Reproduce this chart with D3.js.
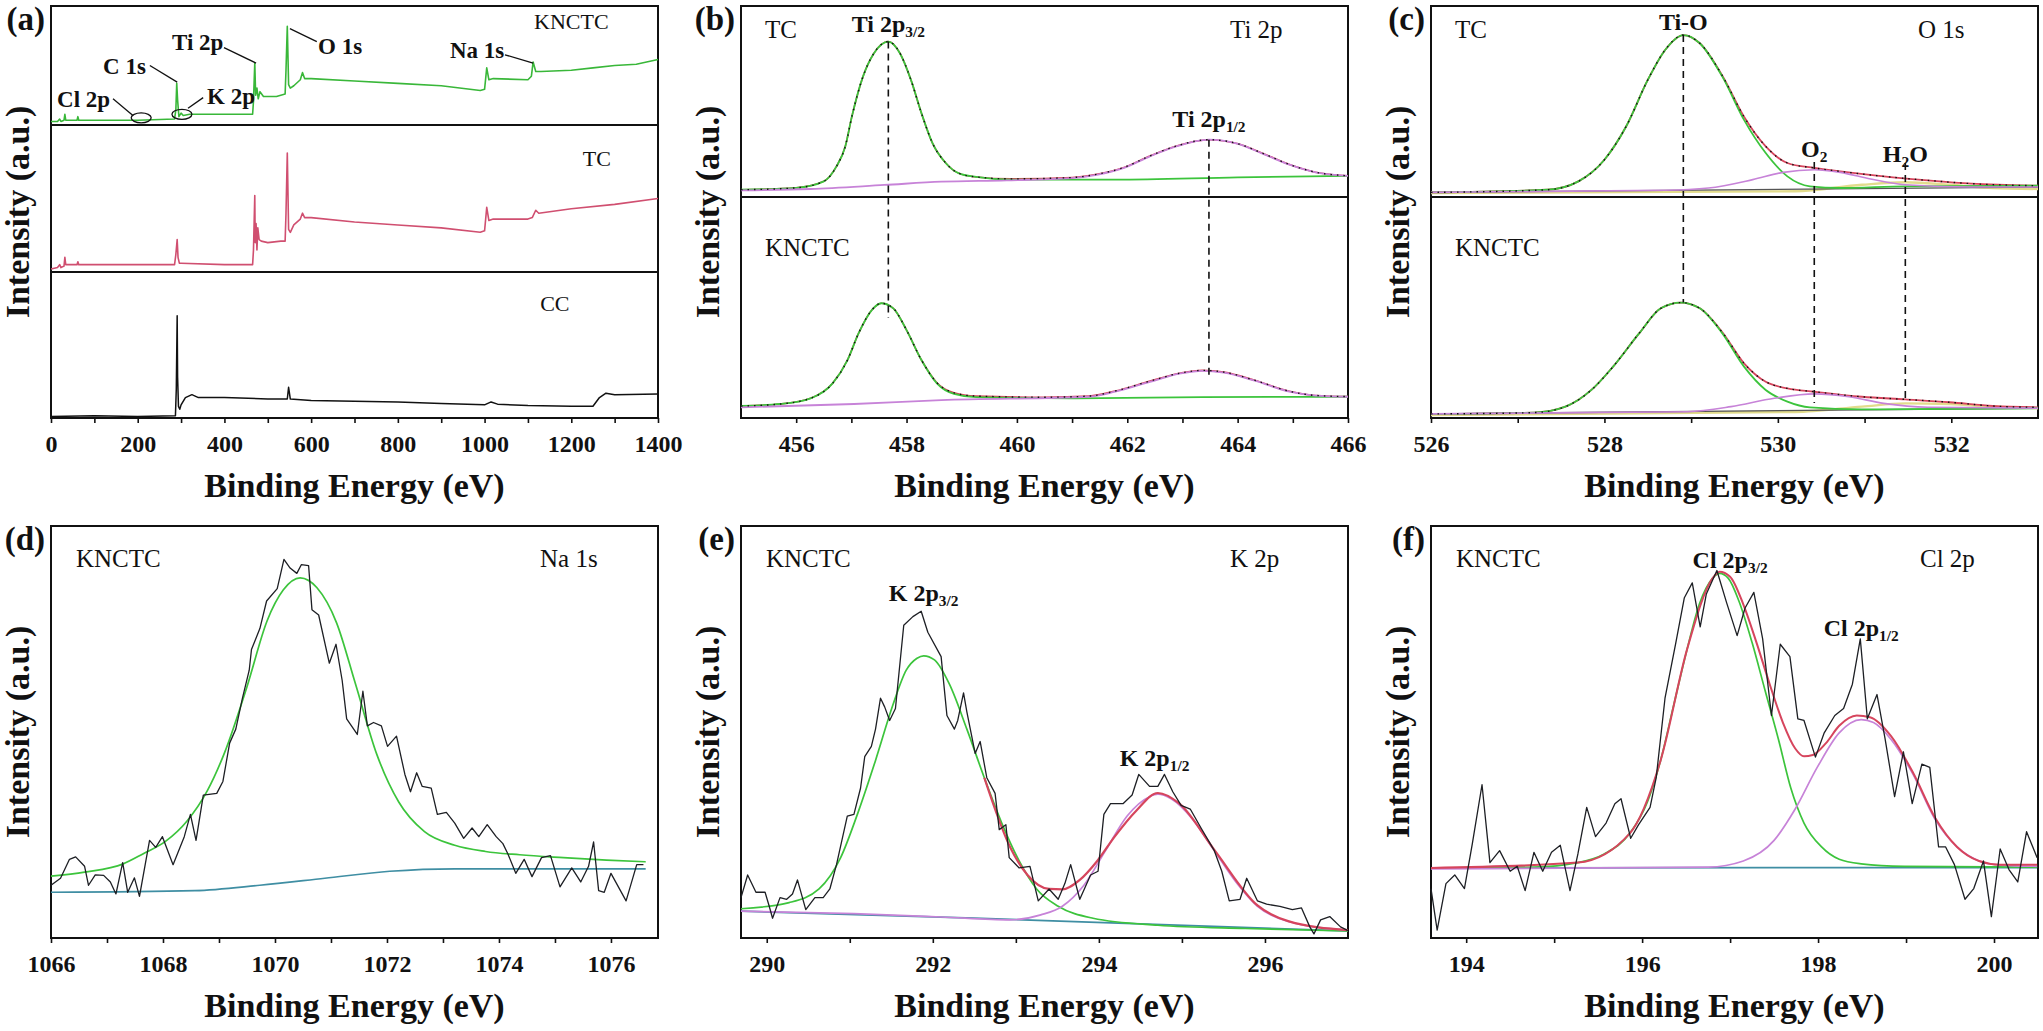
<!DOCTYPE html>
<html>
<head>
<meta charset="utf-8">
<script src="https://cdn.jsdelivr.net/npm/d3@7"></script>
<style>
body { margin: 0; background: #fff; }
svg { display: block; }
</style>
</head>
<body>
<svg id="chart" width="2043" height="1031"></svg>
<script>
// ---- survey spectra, panel (a): [binding energy, relative intensity in its strip]
var knctcSurvey = [[0,3],[15,3],[20,5],[23,3],[30,4],[32,9],[34,4],[60,4],[62,7],[64,4],[200,4],[285,5],[288,13],[290,35],[292,21],[295,7],[300,10],[305,8],[320,9],[400,9],[465,9],[467,20],[470,52],[472,25],[475,31],[478,22],[482,28],[490,24],[520,24],[540,26],[542,46],[545,83],[548,34],[552,31],[560,33],[575,38],[580,44],[585,39],[600,39],[700,37],[800,35],[900,33],[990,29],[1000,30],[1005,48],[1010,38],[1020,39],[1100,38],[1108,41],[1112,53],[1118,45],[1130,45],[1200,46],[1250,48],[1300,50],[1350,51],[1400,55]];
var tcSurvey = [[0,2],[15,3],[20,5],[23,3],[30,4],[32,10],[34,5],[60,5],[62,7],[64,5],[200,5],[285,5],[288,12],[291,22],[293,10],[296,6],[300,6],[400,5],[465,5],[467,15],[470,52],[471,20],[473,33],[475,15],[477,30],[480,22],[485,21],[500,20],[530,21],[540,21],[542,40],[545,81],[548,29],[552,27],[560,32],[575,36],[580,40],[585,37],[600,37],[700,34],[800,32],[900,30],[990,27],[1000,28],[1005,44],[1010,35],[1020,36],[1100,36],[1110,37],[1118,42],[1125,40],[1200,43],[1300,46],[1400,50]];
var ccSurvey = [[0,1],[100,1.5],[200,1],[287,1.5],[289,20],[291,70],[292,28],[294,8],[297,6],[300,9],[310,14],[325,16],[340,14],[400,14],[500,13],[540,13],[545,13],[548,21],[552,13],[600,12],[700,11.5],[800,11],[900,10],[1000,9],[1015,11],[1030,9.5],[1100,8.5],[1200,8],[1250,8],[1265,14],[1280,17],[1300,16],[1400,16.5]];
var surveyNotes = [
  {text: "Cl 2p", at: [14, 15], from: [143, 22], to: [189, 8]},
  {text: "C 1s", at: [120, 43], from: [228, 50], to: [291, 36]},
  {text: "K 2p", at: [360, 18], from: [351, 23], to: [316, 14]},
  {text: "Ti 2p", at: [279, 63], from: [399, 65], to: [473, 52]},
  {text: "O 1s", at: [616, 60], from: [613, 70], to: [551, 81]},
  {text: "Na 1s", at: [920, 56], from: [1047, 59], to: [1112, 52]}
];
var surveyRings = [[208, 6], [302, 9]];

// ---- Ti 2p, panel (b)
var tiTcEnvelope = [[455,3.8],[456,4.8],[456.5,8.2],[456.73,16],[456.89,26.5],[457.01,42.2],[457.21,63],[457.41,75.3],[457.67,81.4],[457.88,75.3],[458.08,61.3],[458.27,43.9],[458.47,28.2],[458.71,17.8],[458.94,12.5],[459.26,10.5],[459.89,9.5],[461.0,10.2],[461.47,12],[461.94,15.5],[462.41,21.5],[462.89,26.7],[463.48,30],[463.99,28],[464.46,22.8],[464.94,17],[465.41,13],[466,11.1]];
var tiTcGreen = [[455,3.8],[456,4.8],[456.5,8.2],[456.73,16],[456.89,26.5],[457.01,42.2],[457.21,63],[457.41,75.3],[457.67,81.4],[457.88,75.3],[458.08,61.3],[458.27,43.9],[458.47,28.2],[458.71,17.8],[458.94,12.5],[459.26,10.5],[459.89,9.1],[461.78,9.1],[464,10.3],[466,11.1]];
var tiTcPurple = [[455,3.5],[456.26,4.2],[457.6,6.3],[458.63,8],[459.81,8.7],[461.0,9.9],[461.47,11.7],[461.94,15.2],[462.41,21.3],[462.89,26.5],[463.48,30],[463.99,27.9],[464.46,22.6],[464.94,16.9],[465.41,12.9],[466,11.1]];
var tiKEnvelope = [[455,5],[455.71,5.9],[456.26,8.5],[456.66,15.3],[456.93,25.9],[457.13,38],[457.37,48.6],[457.54,51.7],[457.76,49.4],[458.0,39.5],[458.27,25.9],[458.55,15.6],[458.86,11],[459.26,9.5],[460.5,9],[461.31,9.5],[461.78,11.8],[462.41,16.3],[462.97,20],[463.36,21.2],[463.75,20.4],[464.31,16.7],[464.94,11.7],[465.41,9.8],[466,9.3]];
var tiKGreen = [[455,5],[455.71,5.9],[456.26,8.5],[456.66,15.3],[456.93,25.9],[457.13,38],[457.37,48.6],[457.54,51.7],[457.76,49.4],[458.0,39.5],[458.27,25.9],[458.55,15.3],[458.86,10.5],[459.26,9],[460.99,8.5],[463.36,9],[466,9.2]];
var tiKPurple = [[455,4.4],[457.05,5.9],[458.63,7.7],[461.31,9.2],[461.78,11.5],[462.41,16],[462.97,19.8],[463.36,21],[463.75,20.2],[464.31,16.5],[464.94,11.5],[465.41,9.7],[466,9.2]];
var tiDashes = [{x: 457.67, from: 81.4, to: 45}, {x: 463.48, from: 30, to: 17.7}];

// ---- O 1s, panel (c)
var oTcEnvelope = [[526,2.4],[527.34,3.8],[527.7,8.2],[528.0,19.5],[528.25,36.9],[528.5,61.3],[528.7,77],[528.91,84.8],[529.1,80.5],[529.36,63.5],[529.61,42],[529.86,26.5],[530.11,17.8],[530.42,15.2],[530.72,13.4],[531.22,10.8],[531.73,8.7],[532.23,7],[533,5.9]];
var oTcGreen = [[526,2.4],[527.34,3.8],[527.7,8.2],[528.0,19.5],[528.25,36.9],[528.5,61.3],[528.7,77],[528.91,84.8],[529.1,80.5],[529.36,63],[529.61,40.4],[529.86,23],[530.11,10.8],[530.37,5.6],[530.72,4.7],[531.47,5.6],[533,5.9]];
var oTcPurple = [[526,2.4],[528.7,3.5],[529.2,4.7],[529.71,9.1],[530.06,12.9],[530.42,14.3],[530.72,12.9],[531.07,9.4],[531.47,6.4],[532.23,5.2],[533,5.2]];
var oTcWater = [[526,2.1],[530.2,3],[530.97,6.4],[531.47,7.7],[531.98,6.4],[532.48,4.7],[533,4.2]];
var oTcBase = [[526,2.4],[533,5.2]];
var oKEnvelope = [[526,1.4],[527.19,2],[527.55,4.7],[527.85,12.3],[528.1,22.9],[528.4,38],[528.65,49.4],[528.88,52],[529.1,49.4],[529.36,38.5],[529.61,24.4],[529.86,16],[530.11,13],[530.42,11.5],[530.97,9.2],[531.47,8],[531.98,6.7],[532.48,5],[533,4.4]];
var oKGreen = [[526,1.4],[527.19,2],[527.55,4.7],[527.85,12.3],[528.1,22.9],[528.4,38],[528.65,49.4],[528.88,52],[529.1,49.4],[529.36,38],[529.61,22.9],[529.86,12.3],[530.11,7],[530.37,4.4],[530.97,3.5],[533,4]];
var oKPurple = [[526,1.4],[528.96,2.4],[529.46,4.7],[529.96,8.5],[530.42,10.5],[530.82,9.2],[531.22,6.2],[531.73,4.4],[533,4]];
var oKWater = [[526,0.9],[530.2,2.3],[530.97,4.7],[531.47,6.2],[531.98,5.9],[532.48,4.7],[533,4]];
var oKBase = [[526,1.4],[533,4]];
var oDashes = [{x: 528.91, from: 84.8, to: 52}, {x: 530.42, from: 18.3, to: 6.4}, {x: 531.47, from: 17.8, to: 8.6}];

// ---- Na 1s, panel (d)
var naRaw = [[1066.00,12.8],[1066.17,14.5],[1066.33,19.1],[1066.44,19.7],[1066.60,17.4],[1066.67,12.8],[1066.79,15.3],[1066.94,15.2],[1067.06,13.6],[1067.16,10.7],[1067.28,18.3],[1067.37,11.1],[1067.49,14.6],[1067.58,10.1],[1067.76,23.7],[1067.87,22.0],[1067.99,24.6],[1068.18,17.8],[1068.38,24.6],[1068.49,30.0],[1068.59,23.7],[1068.72,34.7],[1068.96,35.1],[1069.07,38.0],[1069.19,47.3],[1069.30,50.7],[1069.42,58.3],[1069.54,65.0],[1069.58,70.0],[1069.73,75.1],[1069.85,81.8],[1070.04,84.8],[1070.16,91.9],[1070.27,89.8],[1070.39,88.5],[1070.47,90.6],[1070.60,90.4],[1070.66,79.7],[1070.78,78.4],[1070.97,66.7],[1071.09,71.3],[1071.20,62.5],[1071.28,53.2],[1071.47,49.4],[1071.57,59.9],[1071.65,51.5],[1071.76,52.3],[1071.90,51.5],[1072.01,46.5],[1072.17,49.0],[1072.32,39.7],[1072.42,35.5],[1072.53,40.1],[1072.63,36.8],[1072.79,36.4],[1072.90,30.0],[1073.06,30.5],[1073.21,27.9],[1073.37,24.2],[1073.52,26.7],[1073.64,24.6],[1073.79,27.5],[1073.95,24.6],[1074.07,22.9],[1074.16,20.4],[1074.30,15.7],[1074.45,19.1],[1074.59,14.9],[1074.76,19.5],[1074.92,20.0],[1075.09,12.4],[1075.30,17.0],[1075.46,13.6],[1075.60,17.4],[1075.69,23.3],[1075.78,11.5],[1075.88,11.1],[1076.00,15.7],[1076.27,9.0],[1076.46,17.8],[1076.58,17.8]];
var naFit = [[1066,15],[1066.6,16],[1067.29,18],[1067.64,20.4],[1068.05,23.5],[1068.43,28.4],[1068.79,35.7],[1069.1,45],[1069.5,61],[1069.86,77],[1070.15,84.5],[1070.45,87.4],[1070.75,85],[1071.1,76.5],[1071.43,62],[1071.82,44.5],[1072.21,33],[1072.67,25.8],[1073.21,22.5],[1073.76,21],[1074.37,20.2],[1075.15,19.5],[1075.92,18.9],[1076.62,18.5]];
var naBase = [[1066,11.1],[1068.57,11.5],[1069.73,12.8],[1070.89,14.5],[1072.05,16.2],[1073.21,16.8],[1076.62,16.8]];

// ---- K 2p, panel (e)
var kRaw = [[289.69,9.8],[289.77,15.3],[289.87,11.1],[289.98,11.1],[290.03,7.7],[290.07,4.8],[290.16,9.8],[290.24,9.4],[290.31,10.7],[290.37,14.1],[290.47,6.9],[290.58,9.8],[290.68,9.8],[290.76,11.9],[290.84,17.8],[290.97,29.6],[291.05,30.0],[291.13,36.4],[291.18,44.0],[291.26,46.5],[291.31,50.7],[291.37,58.2],[291.42,56.1],[291.48,52.8],[291.55,55.7],[291.65,75.9],[291.76,78.0],[291.86,79.3],[291.94,74.2],[292.10,68.3],[292.17,54.0],[292.26,50.7],[292.30,52.8],[292.37,59.5],[292.41,54.9],[292.51,44.8],[292.57,47.7],[292.65,38.9],[292.75,35.1],[292.80,26.3],[292.88,27.5],[292.92,19.5],[293.04,17.0],[293.17,17.4],[293.27,9.0],[293.40,11.9],[293.51,9.4],[293.59,13.2],[293.66,17.8],[293.77,9.4],[293.90,15.3],[293.99,16.2],[294.06,30.0],[294.14,32.6],[294.29,32.6],[294.40,34.7],[294.48,39.7],[294.61,36.8],[294.71,36.8],[294.79,39.7],[294.89,35.5],[294.99,32.2],[295.10,31.3],[295.23,26.7],[295.39,21.2],[295.48,16.2],[295.57,9.0],[295.70,9.4],[295.78,14.5],[295.91,9.0],[296.02,8.2],[296.18,7.7],[296.33,6.9],[296.44,7.3],[296.54,2.7],[296.59,1.0],[296.67,4.4],[296.78,5.2],[296.91,2.7],[297.00,1.8]];
var kGreen = [[289.69,7.1],[290.27,8.6],[290.63,11.9],[290.89,19.5],[291.10,30.5],[291.31,43.1],[291.52,56.6],[291.68,65],[291.81,67.9],[291.89,68.5],[292.02,67.5],[292.2,61.6],[292.41,50.7],[292.62,38.9],[292.83,27.9],[293.04,18.7],[293.25,11.9],[293.51,7.7],[293.93,4.8],[294.71,3.1],[295.76,2.3],[297,1.7]];
var kPurple = [[289.69,6.5],[291.05,5.9],[292.1,5.1],[292.93,4.4],[293.3,5.6],[293.56,7.7],[293.82,12.8],[294.08,21.2],[294.34,29.6],[294.61,34.3],[294.71,34.9],[294.87,33.8],[295.13,28.8],[295.39,21.2],[295.65,13.6],[295.91,7.7],[296.28,4.0],[297,1.9]];
var kEnvelope = [[292.62,38.9],[292.93,22.1],[293.14,15.3],[293.4,11.9],[293.56,11.8],[293.77,14.1],[293.98,18.7],[294.19,24.6],[294.45,30.9],[294.71,35.2],[294.97,32.6],[295.39,21.4],[295.91,7.9],[296.28,4.1],[297,1.9]];
var kBase = [[289.69,6.5],[292.5,4.8],[297,1.7]];

// ---- Cl 2p, panel (f)
var clRaw = [[193.60,12.0],[193.67,1.9],[193.77,13.2],[193.87,15.3],[193.98,12.0],[194.07,22.9],[194.18,37.2],[194.27,18.3],[194.38,21.2],[194.50,16.2],[194.58,17.4],[194.67,11.5],[194.77,20.8],[194.87,16.2],[194.97,20.8],[195.07,22.5],[195.18,11.5],[195.27,20.4],[195.37,31.7],[195.47,24.6],[195.59,27.9],[195.69,32.6],[195.76,33.8],[195.87,24.2],[195.96,27.5],[196.09,31.7],[196.16,38.9],[196.26,58.2],[196.38,71.3],[196.48,82.6],[196.57,86.2],[196.66,75.5],[196.73,83.5],[196.85,89.2],[196.96,81.4],[197.08,73.4],[197.17,80.1],[197.27,83.9],[197.37,72.6],[197.47,54.0],[197.57,71.3],[197.68,68.3],[197.77,53.2],[197.84,52.8],[197.97,43.9],[198.07,49.8],[198.19,54.0],[198.29,55.7],[198.39,61.6],[198.48,72.6],[198.56,53.2],[198.67,59.1],[198.76,48.6],[198.87,34.3],[198.97,45.2],[199.07,32.6],[199.18,42.2],[199.27,41.4],[199.37,22.1],[199.45,22.1],[199.55,17.8],[199.67,9.4],[199.77,12.0],[199.88,18.7],[199.97,5.2],[200.07,21.6],[200.17,16.6],[200.27,13.6],[200.37,25.8],[200.49,19.5]];
var clGreen = [[193.6,17],[194.77,17.2],[195.27,18.3],[195.57,20.4],[195.86,25.4],[196.06,33],[196.21,43.1],[196.36,56.6],[196.51,70],[196.65,81],[196.8,87.3],[196.88,88.5],[196.98,87.3],[197.1,81.8],[197.25,71.7],[197.4,59.9],[197.55,48.2],[197.69,36.4],[197.84,27.9],[198.04,22.1],[198.24,19.1],[198.49,18],[198.98,17.4],[200.49,17.2]];
var clPurple = [[193.6,16.8],[196.75,17.2],[197.15,18.7],[197.5,23.7],[197.74,31.3],[197.99,41.4],[198.24,49.8],[198.49,53],[198.63,52.3],[198.83,48.2],[199.08,39.7],[199.33,28.8],[199.58,22.1],[199.83,18.7],[200.07,17.7],[200.49,17.4]];
var clEnvelope = [[193.6,17],[195.27,18.3],[195.86,25.4],[196.21,43.1],[196.51,70],[196.8,87.3],[196.88,88.9],[197.0,87.7],[197.15,81],[197.3,71.7],[197.45,61.6],[197.6,52.3],[197.74,46],[197.84,44.1],[197.94,44.4],[198.09,47.3],[198.24,51.5],[198.44,54],[198.59,53.6],[198.83,49],[199.08,40.1],[199.33,29.2],[199.58,22.1],[199.83,18.7],[200.07,17.8],[200.49,17.8]];
var clBase = [[193.6,17],[200.49,17.1]];

// ---- layout & styles
var colLeft = [51, 741, 1431], panelW = 607;
var rowBox = [{top: 6, bottom: 418}, {top: 526, bottom: 938}];
var serif = "'Liberation Serif', 'Times New Roman', serif";
var ink = "#111", green = "#3cc43c", purple = "#c783d8", red = "#d6455d",
    teal = "#3f8ea3", pink = "#d04f70", pale = "#e2dc8c";

var svg = d3.select("#chart").attr("font-family", serif);

var curveLine = function(x, y, smooth) {
  return d3.line()
    .x(function(d) { return x(d[0]); })
    .y(function(d) { return y(d[1]); })
    .curve(smooth ? d3.curveMonotoneX : d3.curveLinear);
};

var plot = function(g, data, x, y, color, width, smooth, dash) {
  g.append("path").datum(data)
    .attr("d", curveLine(x, y, smooth))
    .attr("fill", "none").attr("stroke", color)
    .attr("stroke-width", width).attr("stroke-linejoin", "round")
    .attr("stroke-dasharray", dash || null);
};

// text with "_{...}" subscripts
var rich = function(g, px, py, str, size, bold, anchor) {
  var t = g.append("text").attr("x", px).attr("y", py)
    .attr("text-anchor", anchor || "middle").attr("font-size", size)
    .attr("font-weight", bold ? "bold" : "normal").attr("fill", ink);
  var pieces = str.split(/(_\{[^}]*\})/).filter(function(s) { return s.length; });
  var down = false;
  pieces.forEach(function(p) {
    var s = t.append("tspan");
    if (p.indexOf("_{") === 0) {
      s.text(p.slice(2, -1)).attr("font-size", size * 0.64).attr("dy", down ? 0 : 5);
      down = true;
    } else {
      s.text(p);
      if (down) s.attr("dy", -5);
      down = false;
    }
  });
};

var frameAndAxes = function(letter, col, row, x, ticks, labelled, separators) {
  var left = colLeft[col], box = rowBox[row];
  var g = svg.append("g");
  g.append("g").attr("transform", "translate(0," + box.bottom + ")")
    .call(d3.axisBottom(x).tickValues(ticks).tickSize(5).tickPadding(12).tickSizeOuter(0)
      .tickFormat(function(d) { return labelled.indexOf(d) >= 0 ? d : ""; }))
    .attr("font-family", serif).attr("font-size", 24).attr("font-weight", "bold")
    .call(function(a) {
      a.select(".domain").remove();
      a.selectAll("line").attr("stroke", ink).attr("stroke-width", 1.6);
      a.selectAll("text").attr("fill", ink);
    });
  (separators || []).forEach(function(sy) {
    g.append("line").attr("x1", left).attr("x2", left + panelW)
      .attr("y1", sy).attr("y2", sy).attr("stroke", ink).attr("stroke-width", 2);
  });
  g.append("rect").attr("x", left).attr("y", box.top)
    .attr("width", panelW).attr("height", box.bottom - box.top)
    .attr("fill", "none").attr("stroke", ink).attr("stroke-width", 2);
  g.append("text").attr("x", left - 6).attr("y", box.top + 24)
    .attr("text-anchor", "end").attr("font-size", 33).attr("font-weight", "bold")
    .attr("fill", ink).text("(" + letter + ")");
  g.append("text").attr("x", left + panelW / 2).attr("y", box.bottom + 79)
    .attr("text-anchor", "middle").attr("font-size", 34).attr("font-weight", "bold")
    .attr("fill", ink).text("Binding Energy (eV)");
  g.append("text")
    .attr("transform", "translate(" + (left - 22) + "," + ((box.top + box.bottom) / 2) + ") rotate(-90)")
    .attr("text-anchor", "middle").attr("font-size", 34).attr("font-weight", "bold")
    .attr("fill", ink).text("Intensity (a.u.)");
  return g;
};

var xScale = function(col, domain) {
  return d3.scaleLinear().domain(domain).range([colLeft[col], colLeft[col] + panelW]);
};
var yScale = function(top, bottom) {
  return d3.scaleLinear().domain([0, 100]).range([bottom, top]);
};
var evens = function(a, b) { return d3.range(a, b + 1, 2); };

// ===== (a) survey
(function() {
  var x = xScale(0, [0, 1400]);
  var g = frameAndAxes("a", 0, 0, x, d3.range(0, 1401, 100), d3.range(0, 1401, 200), [125, 272]);
  var yK = yScale(6, 125), yT = yScale(125, 272), yC = yScale(272, 418);
  plot(g, knctcSurvey, x, yK, "#39b739", 1.6, false);
  plot(g, tcSurvey, x, yT, pink, 1.6, false);
  plot(g, ccSurvey, x, yC, ink, 1.5, false);
  surveyNotes.forEach(function(n) {
    rich(g, x(n.at[0]), yK(n.at[1]), n.text, 23, true, "start");
    g.append("line").attr("x1", x(n.from[0])).attr("y1", yK(n.from[1]))
      .attr("x2", x(n.to[0])).attr("y2", yK(n.to[1]))
      .attr("stroke", ink).attr("stroke-width", 1.3);
  });
  surveyRings.forEach(function(r) {
    g.append("ellipse").attr("cx", x(r[0])).attr("cy", yK(r[1]))
      .attr("rx", 10).attr("ry", 5).attr("fill", "none")
      .attr("stroke", ink).attr("stroke-width", 1.3);
  });
  rich(g, x(1200), yK(81), "KNCTC", 22, false);
  rich(g, x(1259), yT(72), "TC", 22, false);
  rich(g, x(1162), yC(73), "CC", 22, false);
})();

// ===== (b) Ti 2p
(function() {
  var x = xScale(1, [455, 466]), left = colLeft[1];
  var g = frameAndAxes("b", 1, 0, x, d3.range(456, 467, 1), evens(456, 466), [197]);
  var yT = yScale(6, 197), yK = yScale(197, 417);
  [[tiTcEnvelope, tiTcGreen, tiTcPurple, yT], [tiKEnvelope, tiKGreen, tiKPurple, yK]].forEach(function(s) {
    plot(g, s[0], x, s[3], red, 1.6, true);
    plot(g, s[1], x, s[3], green, 1.8, true);
    plot(g, s[2], x, s[3], purple, 1.8, true);
    plot(g, s[0], x, s[3], ink, 1.4, true, "1.5,5");
  });
  tiDashes.forEach(function(d) {
    g.append("line").attr("x1", x(d.x)).attr("x2", x(d.x))
      .attr("y1", yT(d.from)).attr("y2", yK(d.to))
      .attr("stroke", ink).attr("stroke-width", 1.6).attr("stroke-dasharray", "7,5");
  });
  rich(g, left + 24, 38, "TC", 25, false, "start");
  rich(g, left + 489, 38, "Ti 2p", 25, false, "start");
  rich(g, left + 24, 256, "KNCTC", 25, false, "start");
  rich(g, x(457.67), yT(86.5), "Ti 2p_{3/2}", 24, true);
  rich(g, x(463.48), yT(36.6), "Ti 2p_{1/2}", 24, true);
})();

// ===== (c) O 1s
(function() {
  var x = xScale(2, [526, 533]), left = colLeft[2];
  var g = frameAndAxes("c", 2, 0, x, d3.range(526, 533, 1), evens(526, 532), [197]);
  var yT = yScale(6, 197), yK = yScale(197, 417);
  [[oTcBase, oTcEnvelope, oTcGreen, oTcPurple, oTcWater, yT], [oKBase, oKEnvelope, oKGreen, oKPurple, oKWater, yK]].forEach(function(s) {
    plot(g, s[4], x, s[5], pale, 2.4, true);
    plot(g, s[0], x, s[5], "#555", 1.4, false);
    plot(g, s[1], x, s[5], red, 1.8, true);
    plot(g, s[2], x, s[5], green, 1.8, true);
    plot(g, s[3], x, s[5], purple, 1.6, true);
    plot(g, s[1], x, s[5], ink, 1.4, true, "1.5,5");
  });
  oDashes.forEach(function(d) {
    g.append("line").attr("x1", x(d.x)).attr("x2", x(d.x))
      .attr("y1", yT(d.from)).attr("y2", yK(d.to))
      .attr("stroke", ink).attr("stroke-width", 1.6).attr("stroke-dasharray", "7,5");
  });
  rich(g, left + 24, 38, "TC", 25, false, "start");
  rich(g, left + 487, 38, "O 1s", 25, false, "start");
  rich(g, left + 24, 256, "KNCTC", 25, false, "start");
  rich(g, x(528.91), yT(87.4), "Ti-O", 24, true);
  rich(g, x(530.42), yT(20.9), "O_{2}", 24, true);
  rich(g, x(531.47), yT(18.3), "H_{2}O", 24, true);
})();

// ===== bottom row: single-sample high resolution spectra
var hiRes = function(letter, col, domain, ticks, labelled, raw, fits, core, peaks) {
  var x = xScale(col, domain), left = colLeft[col];
  var g = frameAndAxes(letter, col, 1, x, ticks, labelled);
  var y = yScale(526, 938);
  fits.forEach(function(f) { plot(g, f.data, x, y, f.color, f.width || 1.7, f.smooth !== false); });
  plot(g, raw, x, y, "#1d1f24", 1.3, false);
  rich(g, left + 25, 567, "KNCTC", 25, false, "start");
  rich(g, left + 489, 567, core, 25, false, "start");
  peaks.forEach(function(p) { rich(g, x(p.x), y(p.y), p.text, 24, true); });
};

hiRes("d", 0, [1066, 1076.84], d3.range(1066, 1077, 1), evens(1066, 1076), naRaw,
  [{data: naBase, color: teal}, {data: naFit, color: green}],
  "Na 1s", []);

hiRes("e", 1, [289.69, 297], d3.range(290, 297, 1), evens(290, 296), kRaw,
  [{data: kBase, color: teal}, {data: kGreen, color: green}, {data: kPurple, color: purple},
   {data: kEnvelope, color: red, width: 2.2}],
  "K 2p", [{x: 291.89, y: 81.8, text: "K 2p_{3/2}"}, {x: 294.67, y: 41.7, text: "K 2p_{1/2}"}]);

hiRes("f", 2, [193.6, 200.5], d3.range(194, 201, 1), evens(194, 200), clRaw,
  [{data: clBase, color: teal}, {data: clGreen, color: green}, {data: clPurple, color: purple},
   {data: clEnvelope, color: red, width: 2}],
  "Cl 2p", [{x: 197.0, y: 89.8, text: "Cl 2p_{3/2}"}, {x: 198.49, y: 73.3, text: "Cl 2p_{1/2}"}]);
</script>
</body>
</html>
